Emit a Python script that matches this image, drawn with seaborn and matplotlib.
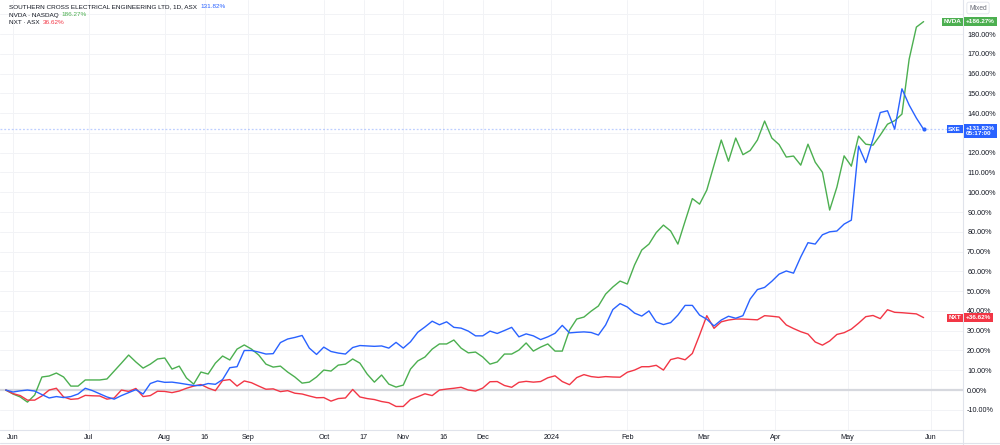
import numpy as np
import pandas as pd
import matplotlib
matplotlib.use("Agg")
import matplotlib.pyplot as plt
from matplotlib.lines import Line2D
import seaborn as sns

# ASX sessions; one reading every second session starting 30 May 2023
asx_holidays = ["2023-06-12", "2023-12-25", "2023-12-26", "2024-01-01",
                "2024-01-26", "2024-03-29", "2024-04-01", "2024-04-25"]

# % change since start
sxe = [0.0, -1.0, -0.4, 0.0, -0.5, -2.3, -4.0, -3.3, -3.8, -3.3,
       -2.0, 0.9, -0.3, -1.9, -3.5, -4.6, -2.8, -1.3, 0.2, -2.0,
       3.3, 4.6, 3.9, 4.0, 3.5, 2.9, 2.3, 2.3, 3.3, 2.9,
       5.3, 11.3, 11.8, 20.0, 20.0, 19.2, 18.2, 18.4, 24.0, 25.8,
       26.6, 27.6, 21.2, 18.0, 21.7, 19.5, 18.7, 18.2, 21.5, 22.5,
       22.3, 22.1, 22.3, 21.2, 24.1, 21.2, 24.4, 29.2, 31.9, 34.8,
       33.0, 34.5, 31.7, 31.3, 29.8, 27.4, 27.4, 29.8, 28.6, 30.1,
       31.7, 26.9, 28.4, 27.4, 25.5, 26.9, 28.7, 32.7, 28.9, 29.2,
       29.4, 29.1, 27.8, 32.9, 40.7, 43.7, 42.0, 38.9, 37.4, 40.0,
       34.4, 33.1, 34.1, 37.9, 42.8, 42.8, 37.9, 35.8, 32.4, 35.4,
       37.3, 36.3, 37.6, 46.0, 50.8, 51.9, 55.0, 58.6, 60.2, 59.1,
       67.3, 74.5, 73.8, 78.5, 80.0, 80.4, 83.9, 85.9, 123.3, 115.0,
       126.9, 140.3, 141.2, 131.9, 152.3, 144.1, 137.5, 131.82]

nvda = [0.0, -2.0, -3.5, -6.1, -2.5, 6.6, 7.1, 8.6, 6.6, 2.0,
        2.0, 5.1, 5.1, 5.1, 5.6, 9.6, 13.6, 17.7, 14.2, 11.1,
        13.1, 15.7, 16.2, 10.6, 12.1, 6.1, 3.0, 9.1, 8.1, 13.6,
        17.2, 15.2, 20.7, 22.8, 20.7, 17.7, 13.1, 11.6, 12.1, 9.1,
        6.6, 3.5, 4.0, 6.6, 10.1, 9.6, 12.6, 13.1, 15.7, 13.6,
        8.1, 4.0, 7.6, 3.0, 1.5, 2.5, 10.6, 14.7, 16.7, 20.7,
        23.3, 23.3, 25.3, 21.2, 18.8, 19.2, 16.7, 13.1, 14.2, 18.2,
        18.2, 20.2, 23.8, 19.7, 21.7, 23.3, 19.7, 19.7, 30.3, 35.9,
        36.9, 39.9, 42.5, 48.5, 52.1, 55.1, 53.6, 63.2, 70.8, 73.8,
        79.6, 83.4, 80.4, 73.8, 85.4, 96.8, 94.0, 101.1, 113.7, 126.4,
        115.7, 127.4, 119.0, 121.1, 126.4, 136.0, 127.4, 124.1, 117.8, 118.3,
        113.7, 124.3, 115.2, 110.1, 91.0, 102.6, 118.4, 113.2, 128.4, 124.3,
        123.8, 128.9, 134.4, 136.2, 139.5, 167.3, 183.5, 186.27]

nxt = [0.0, -1.8, -2.8, -5.1, -5.1, -3.0, 0.0, 0.9, -3.5, -4.7,
       -4.4, -2.7, -2.9, -3.0, -4.6, -4.0, 0.0, -0.7, 0.8, -3.3,
       -2.8, -0.6, -0.7, -1.3, -0.5, 0.9, 2.0, 2.8, 1.0, -0.3,
       4.8, 5.3, 2.0, 4.6, 3.7, 2.0, 0.4, 0.6, -0.8, -0.3,
       -1.6, -2.0, -3.0, -3.9, -3.8, -5.6, -4.3, -4.0, 0.3, -3.5,
       -4.3, -4.8, -5.8, -6.4, -8.3, -8.3, -4.8, -3.4, -1.9, -2.8,
       0.0, 0.5, 0.9, 1.4, 0.0, -0.5, 1.0, 4.2, 4.3, 2.3,
       1.4, 3.9, 4.4, 4.0, 4.3, 6.2, 7.2, 4.3, 2.7, 6.3,
       7.8, 6.8, 6.4, 6.8, 6.6, 6.5, 9.0, 10.1, 11.8, 11.8,
       12.5, 10.1, 15.4, 16.3, 15.3, 18.5, 27.8, 37.6, 31.2, 34.5,
       35.4, 35.9, 35.9, 35.7, 35.5, 37.6, 37.3, 36.9, 32.9, 31.1,
       29.5, 28.3, 24.3, 22.7, 24.8, 28.1, 29.0, 30.8, 33.8, 37.1,
       37.7, 36.1, 40.6, 39.3, 39.1, 38.8, 38.5, 36.62]

symbols = ["NVDA", "NXT", "SXE"]
legend_names = {"SXE": "SOUTHERN CROSS ELECTRICAL ENGINEERING LTD, 1D, ASX",
                "NVDA": "NVDA \u00b7 NASDAQ",
                "NXT": "NXT \u00b7 ASX"}
last_values = {"SXE": 131.82, "NVDA": 186.27, "NXT": 36.62}

tick_dates = ["2023-06-01", "2023-07-03", "2023-08-01", "2023-08-16", "2023-09-01",
              "2023-10-02", "2023-10-17", "2023-11-01", "2023-11-16", "2023-12-01",
              "2024-01-02", "2024-02-01", "2024-03-01", "2024-04-02", "2024-05-01",
              "2024-06-03"]
tick_labels = ["Jun", "Jul", "Aug", "16", "Sep", "Oct", "17", "Nov", "16", "Dec",
               "2024", "Feb", "Mar", "Apr", "May", "Jun"]

colors = {"SXE": "#2962ff", "NVDA": "#4caf50", "NXT": "#f23645"}

# bar index on a trading-session axis (TradingView style, no weekend gaps)
sessions = pd.bdate_range("2023-05-30", "2024-06-07", freq="C", holidays=asx_holidays)
bars = np.arange(0, 2 * len(sxe), 2)
df = pd.concat([
    pd.DataFrame({"bar": bars, "date": sessions[bars], "pct": vals, "symbol": name})
    for name, vals in [("NVDA", nvda), ("NXT", nxt), ("SXE", sxe)]
])
tick_pos = sessions.get_indexer(pd.to_datetime(tick_dates))

sns.set_theme(style="white")
plt.rcParams["font.family"] = ["Liberation Sans Narrow", "Liberation Sans", "DejaVu Sans"]

W, H = 1000, 445
fig = plt.figure(figsize=(W / 100, H / 100), dpi=100)
fig.patch.set_facecolor("white")
ax = fig.add_axes([0, 15 / H, 963 / W, 430 / H])

ax.set_xlim(-1.6, 264.9)
ax.set_ylim(-20.2, 197.2)

yt = np.arange(-10, 200, 10)
ax.set_yticks(yt)
ax.set_yticklabels(["" if v in (130, 190) else f"{v:.2f}%" for v in yt])
ax.yaxis.tick_right()
ax.set_xticks(tick_pos)
ax.set_xticklabels(tick_labels)
ax.tick_params(axis="y", length=0, pad=3, labelsize=5.2, labelcolor="#131722")
ax.tick_params(axis="x", length=0, pad=3, labelsize=5.2, labelcolor="#131722")
ax.grid(True, color="#f2f3f6", lw=0.7)
for s in ["top", "left"]:
    ax.spines[s].set_visible(False)
for s in ["right", "bottom"]:
    ax.spines[s].set_color("#e0e3eb")
    ax.spines[s].set_linewidth(0.8)
ax.set_xlabel("")
ax.set_ylabel("")

ax.axhline(0, color="#d6d8de", lw=1.6, zorder=1)
ax.axhline(last_values["SXE"], color="#2962ff", alpha=0.3, lw=0.9, ls=(0, (1.5, 1.5)), zorder=1)

sns.lineplot(data=df, x="bar", y="pct", hue="symbol", hue_order=symbols,
             palette=colors, lw=1.0, legend=False, ax=ax, zorder=3)
ax.plot(bars[-1], sxe[-1], "o", color=colors["SXE"], ms=2, zorder=4)
ax.set_xlabel("")
ax.set_ylabel("")

# frame of the time axis
fig.add_artist(Line2D([0, 1], [2 / H, 2 / H], color="#e0e3eb", lw=0.8))
fig.add_artist(Line2D([963 / W, 963 / W], [0, 15 / H], color="#e0e3eb", lw=0.8))

# right-hand tags
trans = ax.get_yaxis_transform()
tag_font = dict(fontsize=4.6, color="white", fontweight="bold", zorder=6, clip_on=False)
for name in ["NVDA", "SXE", "NXT"]:
    y = last_values[name]
    ax.text(0.998, y, name, transform=trans, ha="right", va="center",
            bbox=dict(boxstyle="square,pad=0.25", fc=colors[name], ec="none"), **tag_font)
    label = f"+{y:.2f}%"
    if name == "SXE":
        ax.text(1.003, y + 1.9, label + "\n05:17:00", transform=trans, ha="left", va="top",
                linespacing=1.15,
                bbox=dict(boxstyle="square,pad=0.3", fc=colors[name], ec="none"), **tag_font)
    else:
        ax.text(1.003, y, label, transform=trans, ha="left", va="center",
                bbox=dict(boxstyle="square,pad=0.3", fc=colors[name], ec="none"), **tag_font)

fig.text(978 / W, 1 - 8 / H, "Mixed", ha="center", va="center", fontsize=4.8, color="#6a6d78",
         bbox=dict(boxstyle="round,pad=0.35,rounding_size=0.3", fc="white", ec="#e0e3eb", lw=0.6))

# top-left legend
renderer = fig.canvas.get_renderer()
for i, name in enumerate(["SXE", "NVDA", "NXT"]):
    yy = 1 - (7 + 8 * i) / H
    t = fig.text(9 / W, yy, legend_names[name], ha="left", va="center",
                 fontsize=4.6, color="#131722")
    bb = t.get_window_extent(renderer)
    fig.text((bb.x1 + 3) / W, yy, f"{last_values[name]:.2f}%", ha="left", va="center",
             fontsize=4.6, color=colors[name])

fig.savefig("out.png", dpi=100, facecolor="white")
